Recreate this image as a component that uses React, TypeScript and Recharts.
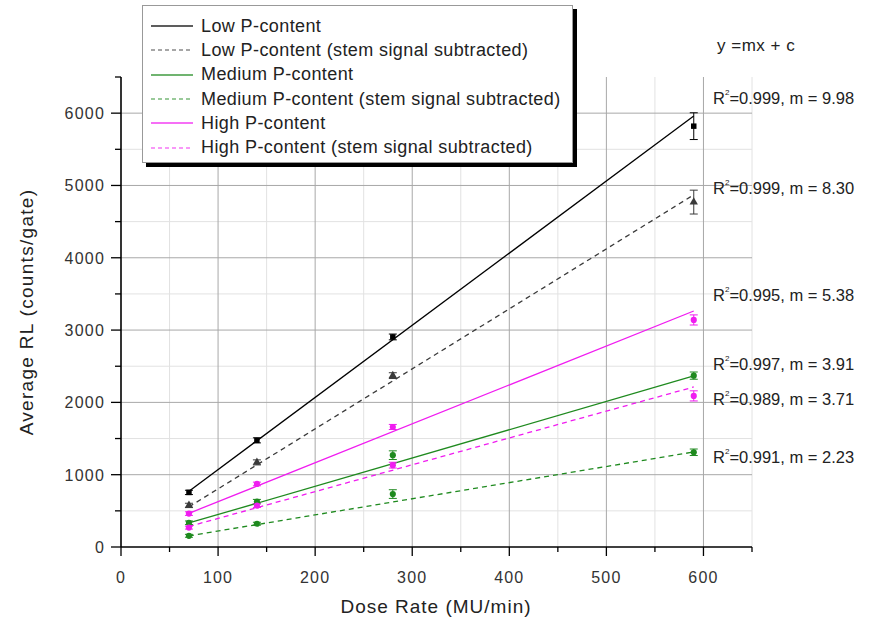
import React from 'react';
import { ComposedChart, Line, Scatter, XAxis, YAxis, ZAxis, CartesianGrid, ErrorBar } from 'recharts';

const doseRates = [70, 140, 280, 590];
const fitX = [70, 590];

const lowVals = [755, 1475, 2905, 5820];
const lowErr = [30, 35, 40, 185];
const lowSubVals = [575, 1170, 2370, 4770];
const lowSubErr = [30, 35, 40, 165];
const medVals = [335, 628, 1270, 2370];
const medErr = [25, 30, 60, 50];
const medSubVals = [155, 322, 732, 1310];
const medSubErr = [20, 20, 60, 45];
const highVals = [462, 872, 1660, 3140];
const highErr = [25, 25, 35, 70];
const highSubVals = [268, 572, 1132, 2090];
const highSubErr = [20, 25, 40, 70];

const lowFit = [771, 5961];
const lowSubFit = [555, 4870];
const medFit = [332, 2365];
const medSubFit = [154, 1314];
const highFit = [466, 3264];
const highSubFit = [284, 2213];

const seriesNames = [
  'Low P-content',
  'Low P-content (stem signal subtracted)',
  'Medium P-content',
  'Medium P-content (stem signal subtracted)',
  'High P-content',
  'High P-content (stem signal subtracted)',
];
const annotations = [
  'R²=0.999, m = 9.98',
  'R²=0.999, m = 8.30',
  'R²=0.995, m = 5.38',
  'R²=0.997, m = 3.91',
  'R²=0.989, m = 3.71',
  'R²=0.991, m = 2.23',
];

const xTicks = [0, 50, 100, 150, 200, 250, 300, 350, 400, 450, 500, 550, 600, 650];
const yTicks = [0, 500, 1000, 1500, 2000, 2500, 3000, 3500, 4000, 4500, 5000, 5500, 6000, 6500];

const FONT = '"Liberation Sans", Arial, sans-serif';

const pts = (vals: number[], errs: number[]) => doseRates.map((x, i) => ({ x, y: vals[i], err: errs[i] }));
const fit = (vals: number[]) => fitX.map((x, i) => ({ x, y: vals[i] }));

const series = [
  { name: seriesNames[0], color: '#000000', dashed: false, shape: 'square', pts: pts(lowVals, lowErr), fit: fit(lowFit) },
  { name: seriesNames[1], color: '#3a3a3a', dashed: true, shape: 'triangle', pts: pts(lowSubVals, lowSubErr), fit: fit(lowSubFit) },
  { name: seriesNames[2], color: '#1f8a1f', dashed: false, shape: 'circle', pts: pts(medVals, medErr), fit: fit(medFit) },
  { name: seriesNames[3], color: '#1f8a1f', dashed: true, shape: 'circle', pts: pts(medSubVals, medSubErr), fit: fit(medSubFit) },
  { name: seriesNames[4], color: '#f01cf0', dashed: false, shape: 'circle', pts: pts(highVals, highErr), fit: fit(highFit) },
  { name: seriesNames[5], color: '#f01cf0', dashed: true, shape: 'circle', pts: pts(highSubVals, highSubErr), fit: fit(highSubFit) },
];

const annTops = [100, 190, 297, 366, 401, 459];

const XTick = (props: any) => {
  const { x, y, payload } = props;
  const major = payload.value % 100 === 0;
  return (
    <g>
      <line x1={x} x2={x} y1={y} y2={y + (major ? 9 : 5)} stroke="#000" strokeWidth={1.3} />
      {major && (
        <text x={x} y={y + 36} textAnchor="middle" fontSize={16} letterSpacing={1.2} fill="#333" fontFamily={FONT}>
          {payload.value}
        </text>
      )}
    </g>
  );
};

const YTick = (props: any) => {
  const { x, y, payload } = props;
  const major = payload.value % 1000 === 0;
  return (
    <g>
      <line x1={x - (major ? 10 : 6)} x2={x} y1={y} y2={y} stroke="#000" strokeWidth={1.3} />
      {major && (
        <text x={x - 16} y={y + 6} textAnchor="end" fontSize={16} letterSpacing={1.2} fill="#333" fontFamily={FONT}>
          {payload.value}
        </text>
      )}
    </g>
  );
};

export default function App() {
  return (
    <div style={{ position: 'absolute', left: 0, top: 0, width: 872, height: 623, background: '#fff' }}>
      <ComposedChart width={872} height={623} margin={{ top: 77, right: 120, bottom: 26, left: 0 }}>
        <CartesianGrid
          stroke="#e2e2e2"
          strokeWidth={1}
          horizontalValues={[500, 1500, 2500, 3500, 4500, 5500]}
          verticalValues={[50, 150, 250, 350, 450, 550, 650]}
        />
        <CartesianGrid
          stroke="#a8a8a8"
          strokeWidth={1}
          horizontalValues={[1000, 2000, 3000, 4000, 5000, 6000]}
          verticalValues={[100, 200, 300, 400, 500, 600]}
        />
        <XAxis
          type="number"
          dataKey="x"
          domain={[0, 650]}
          ticks={xTicks}
          interval={0}
          tickSize={0}
          tickMargin={0}
          tickLine={false}
          tick={<XTick />}
          height={50}
          stroke="#000"
          strokeWidth={1.6}
          allowDataOverflow
          label={{
            content: () => (
              <text x={436} y={613} textAnchor="middle" fontSize={19} letterSpacing={1} fill="#222" fontFamily={FONT}>
                Dose Rate (MU/min)
              </text>
            ),
          }}
        />
        <YAxis
          type="number"
          domain={[0, 6500]}
          ticks={yTicks}
          interval={0}
          tickSize={0}
          tickMargin={0}
          tickLine={false}
          tick={<YTick />}
          width={121}
          stroke="#000"
          strokeWidth={1.6}
          allowDataOverflow
          label={{
            content: () => (
              <text
                x={33}
                y={312}
                textAnchor="middle"
                fontSize={19}
                letterSpacing={1.3}
                fill="#222"
                fontFamily={FONT}
                transform="rotate(-90 33 312)"
              >
                Average RL (counts/gate)
              </text>
            ),
          }}
        />
        <ZAxis range={[30, 30]} />
        {series.map((s, i) => (
          <Line
            key={'fit' + i}
            data={s.fit}
            dataKey="y"
            type="linear"
            stroke={s.color}
            strokeWidth={1.3}
            strokeDasharray={s.dashed ? '5 4' : undefined}
            dot={false}
            activeDot={false}
            isAnimationActive={false}
            legendType="none"
          />
        ))}
        {series.map((s, i) => (
          <Scatter
            key={'pts' + i}
            data={s.pts}
            dataKey="y"
            fill={s.color}
            shape={s.shape as any}
            isAnimationActive={false}
          >
            <ErrorBar dataKey="err" direction="y" width={4} stroke={s.color} strokeWidth={1} />
          </Scatter>
        ))}
      </ComposedChart>

      <div
        style={{
          position: 'absolute',
          left: 142,
          top: 5,
          width: 431,
          height: 158,
          border: '1px solid #999',
          background: '#fff',
          boxShadow: '4px 4px 0 #000',
          fontFamily: FONT,
          fontSize: 18,
          letterSpacing: 0.4,
          color: '#222',
          paddingTop: 8,
          boxSizing: 'border-box',
        }}
      >
        {series.map((s, i) => (
          <div key={i} style={{ height: 24.3, display: 'flex', alignItems: 'center', whiteSpace: 'nowrap' }}>
            <svg width={44} height={10} style={{ marginLeft: 8, marginRight: 6 }}>
              <line
                x1={0}
                x2={42}
                y1={5}
                y2={5}
                stroke={s.color}
                strokeOpacity={s.dashed ? 0.6 : 0.85}
                strokeWidth={1.5}
                strokeDasharray={s.dashed ? '4 3' : undefined}
              />
            </svg>
            <span>{s.name}</span>
          </div>
        ))}
      </div>

      <div style={{ position: 'absolute', left: 717, top: 36, fontFamily: FONT, fontSize: 17, letterSpacing: 0.5, color: '#222', whiteSpace: 'nowrap' }}>
        y =mx + c
      </div>
      {annotations.map((a, i) => (
        <div
          key={i}
          style={{ position: 'absolute', left: 713, top: annTops[i] - 11, fontFamily: FONT, fontSize: 16.5, color: '#222', whiteSpace: 'nowrap' }}
        >
          R<sup style={{ fontSize: 8, verticalAlign: 'top', position: 'relative', top: -1 }}>2</sup>
          {a.slice(2)}
        </div>
      ))}
    </div>
  );
}
